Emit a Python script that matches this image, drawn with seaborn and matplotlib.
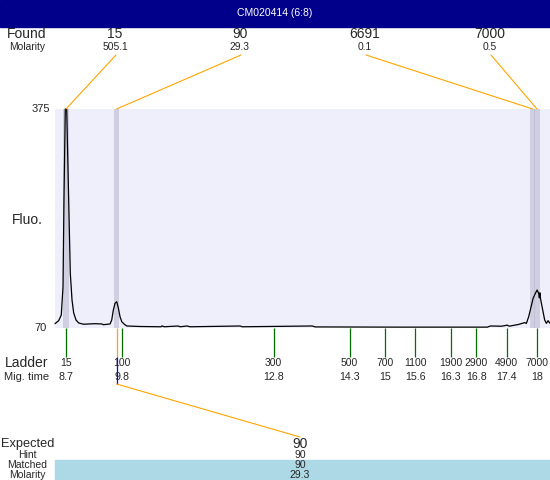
import matplotlib
matplotlib.use("Agg")
import matplotlib.pyplot as plt
import seaborn as sns
from matplotlib.patches import Rectangle, ConnectionPatch

# Data
sample_name = "CM020414 (6:8)"

trace_time = [8.483, 8.556, 8.607, 8.641, 8.660, 8.686, 8.714, 8.753, 8.785, 8.819,
              8.852, 8.898, 8.951, 9.050, 9.149, 9.273, 9.411, 9.437, 9.570, 9.603,
              9.635, 9.668, 9.702, 9.734, 9.767, 9.801, 9.852, 9.900, 10.162, 10.577,
              10.597, 10.637, 10.913, 10.953, 11.091, 11.150, 12.139, 12.178, 13.562, 13.621,
              15.300, 17.020, 17.080, 17.300, 17.415, 17.450, 17.639, 17.757, 17.791, 17.836,
              17.884, 17.923, 17.968, 18.002, 18.033, 18.047, 18.057, 18.067, 18.113, 18.152,
              18.186, 18.219, 18.257]
trace_fluo = [76.0, 80.2, 88.1, 127.1, 248.3, 375.0, 375.0, 248.3, 146.6, 109.0,
              90.9, 81.1, 77.0, 75.2, 75.6, 76.0, 75.6, 74.6, 75.6, 81.1,
              95.1, 104.4, 106.6, 97.9, 85.7, 78.8, 75.2, 72.8, 72.1, 71.7,
              73.0, 71.7, 72.8, 71.7, 72.8, 71.7, 72.8, 71.7, 72.8, 71.5,
              71.2, 71.2, 72.8, 72.5, 74.0, 72.5, 75.0, 77.5, 76.4, 85.7,
              99.6, 111.3, 118.3, 122.9, 118.3, 112.0, 119.0, 111.8, 95.1, 81.1,
              76.5, 80.2, 76.5]

found_sizes = ["15", "90", "6691", "7000"]
found_molarity = ["505.1", "29.3", "0.1", "0.5"]
found_times = [8.70, 9.70, 17.915, 18.00]

ladder_sizes = ["15", "100", "300", "500", "700", "1100", "1900", "2900", "4900", "7000"]
ladder_times = [8.7, 9.8, 12.8, 14.3, 15.0, 15.6, 16.3, 16.8, 17.4, 18.0]

expected_size = "90"
hint_size = "90"
matched_size = "90"
matched_molarity = "29.3"
matched_time = 9.70

y_min, y_max = 70, 375
t_min, t_max = 8.483, 18.257

# Layout (pixels on a 550x480 canvas)
W, H = 550, 480
PLOT_L, PLOT_R, PLOT_T, PLOT_B = 55, 550, 109, 328
LABEL_X = 27
FOUND_X = [115, 240, 365, 490]
EXPECTED_X = 300

ORANGE = "#FFA500"
GREEN = "#006E00"

sns.set_style("white")
plt.rcParams["font.family"] = ["Liberation Sans", "DejaVu Sans"]


def px(x, y):
    return x / W, 1 - y / H


fig = plt.figure(figsize=(5.5, 4.8), dpi=100)
fig.patch.set_facecolor("white")

# Title bar
fig.patches.append(Rectangle((0, 1 - 27 / H), 1, 27 / H, transform=fig.transFigure,
                             color="#00008B", zorder=0))
fig.text(*px(275, 13.5), sample_name, color="white", fontsize=7.5, ha="center", va="center")

ax = fig.add_axes([PLOT_L / W, 1 - PLOT_B / H, (PLOT_R - PLOT_L) / W, (PLOT_B - PLOT_T) / H])
ax.set_facecolor("#EFEFFB")
for sp in ax.spines.values():
    sp.set_visible(False)
ax.set_xticks([])
ax.set_yticks([])
ax.set_xlim(t_min, t_max)
ax.set_ylim(y_min, y_max)

# Peak bands
for t in found_times:
    ax.axvspan(t - 0.052, t + 0.052, color="#B6B6CC", alpha=0.55, lw=0, zorder=1)

sns.lineplot(x=trace_time, y=trace_fluo, ax=ax, color="black", linewidth=0.9,
             estimator=None, sort=False, zorder=3)
ax.lines[-1].set_clip_on(False)
ax.set_xlabel("")
ax.set_ylabel("")

# Y labels
fig.text(*px(41, PLOT_T), str(y_max), fontsize=8, ha="center", va="center")
fig.text(*px(41, PLOT_B), str(y_min), fontsize=8, ha="center", va="center")
fig.text(*px(LABEL_X, 220), "Fluo.", fontsize=10, ha="center", va="center")

# Found row
fig.text(*px(LABEL_X, 34.5), "Found", fontsize=10, ha="center", va="center")
fig.text(*px(LABEL_X, 46.5), "Molarity", fontsize=7.4, ha="center", va="center")
for x, size, mol, t in zip(FOUND_X, found_sizes, found_molarity, found_times):
    fig.text(*px(x, 34.5), size, fontsize=10, ha="center", va="center")
    fig.text(*px(x, 46.5), mol, fontsize=7.4, ha="center", va="center")
    fig.add_artist(ConnectionPatch(xyA=px(x + 1, 55), coordsA=fig.transFigure,
                                   xyB=(t, y_max), coordsB=ax.transData,
                                   color=ORANGE, lw=0.8))

# Ladder ticks and labels
xt = ax.get_xaxis_transform()
plot_h = PLOT_B - PLOT_T
ax.vlines(ladder_times, 0, -29 / plot_h, transform=xt, color=GREEN, lw=0.9, clip_on=False)
for size, t in zip(ladder_sizes, ladder_times):
    ax.text(t, -(363 - PLOT_B) / plot_h, size, transform=xt, fontsize=7.5,
            ha="center", va="center")
    ax.text(t, -(377 - PLOT_B) / plot_h, f"{t:g}", transform=xt, fontsize=7.7,
            ha="center", va="center")
fig.text(*px(LABEL_X, 363), "Ladder", fontsize=10, ha="center", va="center")
fig.text(*px(LABEL_X, 377), "Mig. time", fontsize=8, ha="center", va="center")

# Matched peak connector
ax.vlines([matched_time], 0, -29 / plot_h, transform=xt, color=ORANGE, lw=0.9, clip_on=False)
ax.vlines([matched_time], -29 / plot_h, -56 / plot_h, transform=xt, color="#0000FF",
          lw=0.9, clip_on=False)
fig.add_artist(ConnectionPatch(xyA=(matched_time, -56 / plot_h), coordsA=xt,
                               xyB=px(EXPECTED_X, 437), coordsB=fig.transFigure,
                               color=ORANGE, lw=0.8))

# Expected / hint / matched table
fig.patches.append(Rectangle(px(PLOT_L, H), 1 - PLOT_L / W, 20 / H, transform=fig.transFigure,
                             color="#ADD8E6", zorder=0))
fig.text(*px(28, 444), "Expected", fontsize=9.2, ha="center", va="center")
fig.text(*px(LABEL_X, 455), "Hint", fontsize=7.5, ha="center", va="center")
fig.text(*px(LABEL_X, 465), "Matched", fontsize=7.5, ha="center", va="center")
fig.text(*px(LABEL_X, 474.5), "Molarity", fontsize=7.5, ha="center", va="center")
fig.text(*px(EXPECTED_X, 444), expected_size, fontsize=10, ha="center", va="center")
fig.text(*px(EXPECTED_X, 455), hint_size, fontsize=7.5, ha="center", va="center")
fig.text(*px(EXPECTED_X, 465), matched_size, fontsize=7.5, ha="center", va="center")
fig.text(*px(EXPECTED_X, 474.5), matched_molarity, fontsize=7.5, ha="center", va="center")

fig.savefig("out.png", dpi=100)
